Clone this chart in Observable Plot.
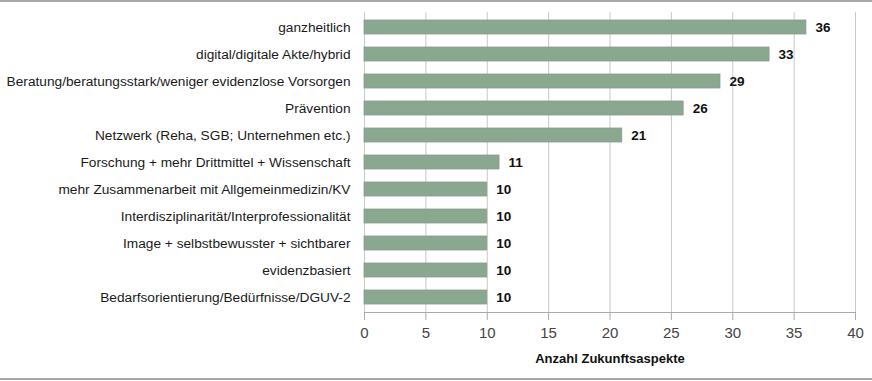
<!DOCTYPE html>
<html>
<head>
<meta charset="utf-8">
<script src="https://cdn.jsdelivr.net/npm/d3@7"></script>
<script src="https://cdn.jsdelivr.net/npm/@observablehq/plot@0.6"></script>
<style>
  html, body { margin: 0; padding: 0; background: #fff; }
  #wrap { position: relative; width: 872px; height: 381px; overflow: hidden; }
  .hline { position: absolute; left: 0; width: 872px; height: 2px; background: #a7a7a7; }
  svg { display: block; }
</style>
</head>
<body>
<div id="wrap">
  <div class="hline" style="top:0px"></div>
  <div class="hline" style="top:378px"></div>
  <div id="chart"></div>
</div>
<script>
const categories = [
  "ganzheitlich",
  "digital/digitale Akte/hybrid",
  "Beratung/beratungsstark/weniger evidenzlose Vorsorgen",
  "Prävention",
  "Netzwerk (Reha, SGB; Unternehmen etc.)",
  "Forschung + mehr Drittmittel + Wissenschaft",
  "mehr Zusammenarbeit mit Allgemeinmedizin/KV",
  "Interdisziplinarität/Interprofessionalität",
  "Image + selbstbewusster + sichtbarer",
  "evidenzbasiert",
  "Bedarfsorientierung/Bedürfnisse/DGUV-2"
];
const values = [36, 33, 29, 26, 21, 11, 10, 10, 10, 10, 10];
const xTicks = [0, 5, 10, 15, 20, 25, 30, 35, 40];
const xLabel = "Anzahl Zukunftsaspekte";

const data = categories.map((c, i) => ({category: c, value: values[i]}));

const chart = Plot.plot({
  width: 872,
  height: 381,
  marginLeft: 364,
  marginRight: 17,
  marginTop: 12,
  marginBottom: 69,
  style: {fontFamily: "Liberation Sans, Arial, sans-serif", fontSize: "13.7px", color: "#1a1a1a", background: "transparent"},
  x: {domain: [0, 40], ticks: xTicks},
  y: {domain: categories, paddingInner: 0.48, paddingOuter: 0.295},
  marks: [
    Plot.gridX(xTicks, {stroke: "#c9c9c9", strokeOpacity: 1, strokeWidth: 1}),
    Plot.barX(data, {x: "value", y: "category", fill: "#8aa88f", stroke: "#8a9a8d", strokeWidth: 0.8}),
    Plot.text(data, {x: "value", y: "category", text: d => String(d.value), textAnchor: "start", dx: 9, fontWeight: "bold", fontSize: 13.5, fill: "#111"}),
    Plot.axisY({tickSize: 0, tickPadding: 14, label: null, fontSize: 13.7, fill: "#1a1a1a"}),
    Plot.axisX(xTicks, {tickSize: 8, tickPadding: 7, stroke: "#aaaaaa", fontSize: 15, fill: "#444", label: null}),
    Plot.frame({anchor: "bottom", stroke: "#aaaaaa"}),
    Plot.text([xLabel], {frameAnchor: "bottom", dy: 50, fontWeight: "bold", fontSize: 13, fill: "#111"})
  ]
});
document.getElementById("chart").appendChild(chart);
</script>
</body>
</html>
